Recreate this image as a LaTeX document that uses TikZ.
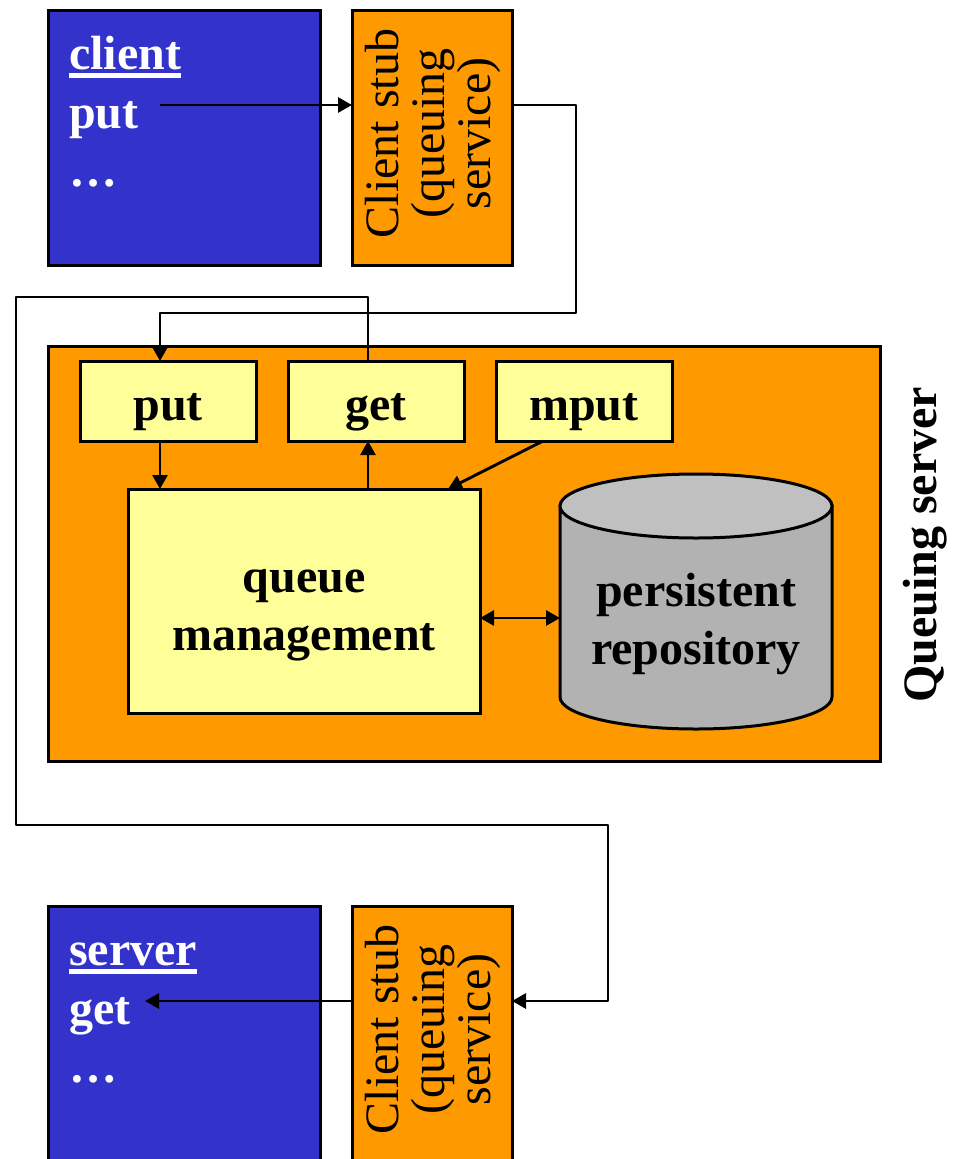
\documentclass[tikz,border=0pt]{standalone}
\usepackage{fontspec}
\setmainfont{Liberation Serif}
\usetikzlibrary{positioning}
\usetikzlibrary{arrows.meta}
\definecolor{bluebox}{HTML}{3333CC}
\definecolor{orangebox}{HTML}{FF9900}
\definecolor{yellowbox}{HTML}{FFFF99}
\definecolor{repobody}{HTML}{B2B2B2}
\definecolor{repotop}{HTML}{C0C0C0}
\newcommand{\thickul}[1]{\leavevmode\setbox0=\hbox{#1}\rlap{\rule[-9pt]{\wd0}{5pt}}\box0}
\tikzset{
  panel/.style={draw=black, line width=3pt, inner sep=0pt, outer sep=0pt},
  progbox/.style={panel, fill=bluebox, minimum width=272pt, minimum height=255pt},
  stubbox/.style={panel, fill=orangebox, minimum width=160pt, minimum height=255pt},
  stubtext/.style={rotate=90, align=center, font=\fontsize{48}{46}\selectfont},
  opbox/.style={panel, fill=yellowbox, minimum width=176pt, minimum height=80pt, text height=38pt, text depth=0pt, font=\fontsize{48}{58}\selectfont\bfseries},
  boldtext/.style={align=center, font=\fontsize{48}{58}\selectfont\bfseries},
  bluetext/.style={anchor=base west, inner sep=0pt, text=white, font=\fontsize{48}{58}\selectfont\bfseries},
  link/.style={draw=black, line width=2.9pt, line join=round, -{Triangle[length=14pt,width=15pt]}},
}
\begin{document}
\begin{tikzpicture}[x=1pt, y=-1pt]
      \useasboundingbox (0,0) rectangle (963,1159);
      \clip (0,0) rectangle (963,1159);
      % Define nodes
      \node[progbox, anchor=north west] (client) at (48,10) {};
      \node[stubbox, right=32pt of client] (stubA) {};
      \node[stubtext] (stubAT) at (433,133.5) {Client stub\\(queuing\\service)};
      \node[bluetext] (clientT) at (69,69) {\thickul{client}};
      \node[bluetext] (clientP) at (69,128) {put};
      \node[bluetext] (clientD) at (69,186) {…};
      \node[panel, fill=orangebox, anchor=north west, minimum width=832pt, minimum height=415pt] (qserver) at (48,346) {};
      \node[opbox, anchor=north west] (put) at (80,361) {put};
      \node[opbox, right=32pt of put] (get) {get};
      \node[opbox, right=32pt of get] (mput) {mput};
      \node[panel, fill=yellowbox, anchor=north west, minimum width=352pt, minimum height=224pt] (queue) at (128,489) {};
      \node[boldtext] (queueT) at (304,615) {queue\\management};
      % the drum is drawn by hand, repo only marks its extent
      \node[inner sep=0pt, outer sep=0pt, minimum width=272pt, minimum height=255pt] (repo) at (696,601.5) {};
      \draw[line width=3pt, fill=repobody] (560,506) -- (560,697) arc[start angle=180, end angle=360, x radius=136pt, y radius=32pt] -- (832,506) -- cycle;
      \draw[line width=3pt, fill=repotop] (696,506) ellipse[x radius=136pt, y radius=32pt];
      \node[boldtext] (repoT) at (696,624) {persistent\\repository};
      \node[rotate=90, font=\fontsize{48}{58}\selectfont\bfseries] (qlabel) at (925,545) {Queuing server};
      \node[progbox, anchor=north west] (server) at (48,906) {};
      \node[stubbox, right=32pt of server] (stubB) {};
      \node[stubtext] (stubBT) at (433,1029.5) {Client stub\\(queuing\\service)};
      \node[bluetext] (serverT) at (69,965) {\thickul{server}};
      \node[bluetext] (serverG) at (69,1024) {get};
      \node[bluetext] (serverD) at (69,1082) {…};
      \coordinate (putStart) at (160,105);
      \coordinate (getEnd) at (145,1001);
      % Connect the nodes
      \draw[link] (putStart) -- (putStart -| stubA.west);
      \draw[link] (stubA.east |- putStart) -- (576,105) -- (576,313) -- (160,313) -- (160,361);
      \draw[link] (160,441) -- (160,489);
      \draw[link] (368,489) -- (368,441);
      \draw[link] (543,441) -- (448,489);
      \draw[link, {Triangle[length=14pt,width=15pt]}-{Triangle[length=14pt,width=15pt]}] (queue.east |- 0,618) -- (repo.west |- 0,618);
      \draw[link] (368,361) -- (368,297) -- (16,297) -- (16,825) -- (608,825) -- (608,1001) -- (stubB.east |- 0,1001);
      \draw[link] (stubB.west |- 0,1001) -- (getEnd);
    \end{tikzpicture}
\end{document}
